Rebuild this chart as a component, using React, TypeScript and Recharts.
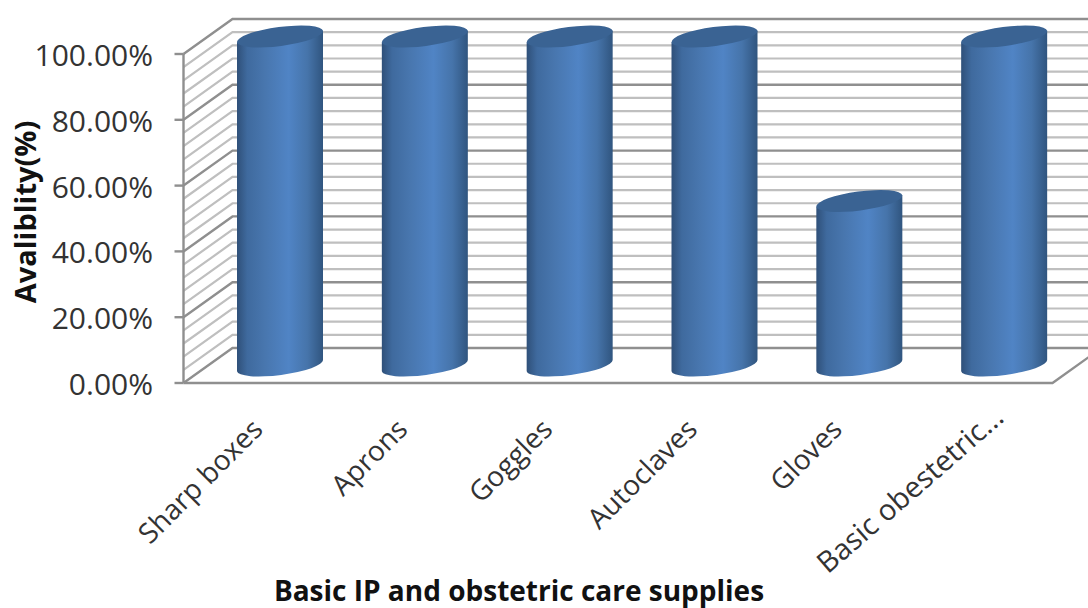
import React from "react";
import { BarChart, Bar, XAxis, YAxis, usePlotArea } from "recharts";

const categories = ["Sharp boxes", "Aprons", "Goggles", "Autoclaves", "Gloves", "Basic obestetric..."];
const availability = [1, 1, 1, 1, 0.5, 1];
const majorTicks = [0, 0.2, 0.4, 0.6, 0.8, 1];
const minorTicks = [0.04, 0.08, 0.12, 0.16, 0.24, 0.28, 0.32, 0.36, 0.44, 0.48, 0.52, 0.56, 0.64, 0.68, 0.72, 0.76, 0.84, 0.88, 0.92, 0.96];
const xTitle = "Basic IP and obstetric care supplies";
const yTitle = "Avaliblity(%)";

const rows = categories.map((name, i) => ({ name, value: availability[i] }));

// Half of the oblique box depth: bars stand mid-way between the front plane and the back wall.
const HALF_DX = 24.5;
const HALF_DY = 17.5;
const TILT = 7.5;
const FONT = "'Open Sans', sans-serif";
const MAJOR = "#8f8f8f";
const MINOR = "#bfbfbf";

function Box3D() {
  const area = usePlotArea();
  if (!area) return null;
  const yOf = (v: number) => area.y + area.height * (1 - v);
  const frontL = area.x - HALF_DX;
  const frontR = area.x + area.width - HALF_DX;
  const backL = area.x + HALF_DX;
  const backR = 1100;
  const line = (v: number, stroke: string, sw: number) => (
    <g key={v} stroke={stroke} strokeWidth={sw} fill="none">
      <polyline points={`${frontL},${yOf(v) + HALF_DY} ${backL},${yOf(v) - HALF_DY} ${backR},${yOf(v) - HALF_DY}`} />
    </g>
  );
  return (
    <g>
      <defs>
        <linearGradient id="cylinderBody" x1="0" y1="0" x2="1" y2="0">
          <stop offset="0" stopColor="#2f5079" />
          <stop offset="0.12" stopColor="#3f6a9e" />
          <stop offset="0.32" stopColor="#4876ae" />
          <stop offset="0.6" stopColor="#5084c5" />
          <stop offset="0.82" stopColor="#4674aa" />
          <stop offset="1" stopColor="#30557f" />
        </linearGradient>
      </defs>
      {minorTicks.map((v) => line(v, MINOR, 2.2))}
      {majorTicks.map((v) => line(v, MAJOR, 2.4))}
      <line x1={frontL} x2={frontL} y1={yOf(1) + HALF_DY} y2={yOf(0) + HALF_DY} stroke={MAJOR} strokeWidth={2.4} />
      <polyline
        points={`${frontL},${yOf(0) + HALF_DY} ${frontR},${yOf(0) + HALF_DY} ${backR},${yOf(0) + HALF_DY - (backR - frontR) * (HALF_DY / HALF_DX)}`}
        stroke={MAJOR}
        strokeWidth={2.4}
        fill="none"
      />
      {majorTicks.map((v) => (
        <line key={v} x1={frontL - 9} x2={frontL} y1={yOf(v) + HALF_DY} y2={yOf(v) + HALF_DY} stroke={MAJOR} strokeWidth={2.4} />
      ))}
    </g>
  );
}

function Cylinder(props: any) {
  const { x, y, width, height } = props;
  const rad = (TILT * Math.PI) / 180;
  const rx = width / 2 / Math.cos(rad);
  const ry = 9.5;
  const lift = (width / 2) * Math.tan(rad);
  const cx = x + width / 2;
  const base = y + height;
  const body = `M${x},${y + lift} L${x},${base + lift} A${rx},${ry} ${-TILT} 0 0 ${x + width},${base - lift} L${x + width},${y - lift} Z`;
  return (
    <g>
      <path d={body} fill="url(#cylinderBody)" />
      <ellipse cx={cx} cy={y} rx={rx} ry={ry} fill="#3a6393" transform={`rotate(${-TILT} ${cx} ${y})`} />
    </g>
  );
}

function ValueTick(props: any) {
  const { y, payload } = props;
  return (
    <text x={153} y={y + HALF_DY + 12} textAnchor="end" fontFamily={FONT} fontSize={30} fill="#333">
      {`${(payload.value * 100).toFixed(2)}%`}
    </text>
  );
}

function CategoryTick(props: any) {
  const { x, payload } = props;
  // The long truncated label sits closer to its column than the short ones.
  const long = payload.value.length > 12;
  const ax = long ? x + 1 : x - 16;
  const ay = long ? 420 : 431;
  const angle = long ? -41 : -45;
  return (
    <text x={ax} y={ay} textAnchor="end" fontFamily={FONT} fontSize={long ? 29 : 28} fill="#333" transform={`rotate(${angle} ${ax} ${ay})`}>
      {payload.value}
    </text>
  );
}

export default function App() {
  return (
    <div style={{ position: "absolute", left: 0, top: 0, width: 1088, height: 608, background: "#fff", overflow: "hidden" }}>
      <BarChart
        width={1088}
        height={608}
        data={rows}
        margin={{ left: 148, right: 11, top: 36.5, bottom: 182.5 }}
        barSize={86}
      >
        <Box3D />
        <XAxis dataKey="name" axisLine={false} tickLine={false} height={60} tick={<CategoryTick />} interval={0} />
        <YAxis width={60} domain={[0, 1]} ticks={majorTicks} axisLine={false} tickLine={false} tick={<ValueTick />} interval={0} />
        <Bar dataKey="value" shape={<Cylinder />} isAnimationActive={false} />
        <text x={519} y={601} textAnchor="middle" fontFamily={FONT} fontWeight={700} fontSize={28} fill="#111">
          {xTitle}
        </text>
        <text x={36} y={212} textAnchor="middle" fontFamily={FONT} fontWeight={700} fontSize={29} fill="#111" transform="rotate(-90 36 212)">
          {yTitle}
        </text>
      </BarChart>
    </div>
  );
}
